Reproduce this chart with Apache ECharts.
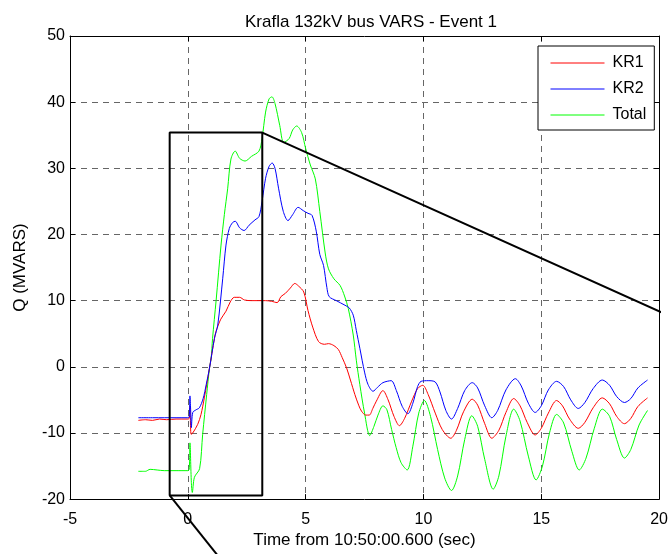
<!DOCTYPE html>
<html>
<head>
<meta charset="utf-8">
<script src="https://cdn.jsdelivr.net/npm/echarts@6/dist/echarts.min.js"></script>
<style>
html,body{margin:0;padding:0;background:#fff;}
#chart{width:671px;height:554px;}
</style>
</head>
<body>
<div id="chart"></div>
<script>
// ---- Data (time in sec, Q in MVARS) ----
const seriesNames = ["KR1", "KR2", "Total"];
const xTicks = [-5, 0, 5, 10, 15, 20];
const yTicks = [-20, -10, 0, 10, 20, 30, 40, 50];

const kr1T = [-2.1,-1.8,-1.5,-1.2,-0.9,-0.5,0.0,0.06,0.09,0.14,0.21,0.42,0.56,0.7,0.92,1.13,1.2,1.4,1.62,1.8,1.97,2.2,2.4,2.7,3.0,3.3,3.55,3.79,3.95,4.14,4.35,4.54,4.7,4.92,5.1,5.3,5.55,5.8,5.97,6.2,6.39,6.55,6.74,6.9,7.09,7.25,7.37,7.55,7.7,7.85,8.0,8.28,8.5,8.75,8.98,9.2,9.5,9.75,9.97,10.2,10.5,10.8,11.16,11.4,11.7,12.07,12.3,12.6,12.9,13.2,13.5,13.83,14.1,14.4,14.74,15.0,15.3,15.65,15.9,16.2,16.57,16.85,17.2,17.59,17.9,18.2,18.53,18.8,19.1,19.51];
const kr1Q = [-8.1,-8.0,-8.1,-7.9,-8.0,-7.9,-7.9,-7.8,-6.0,-10.2,-10.0,-8.7,-7.2,-4.7,-0.2,4.3,5.4,7.2,8.4,9.8,10.5,10.5,10.1,10.0,10.0,10.0,9.9,9.7,10.6,11.1,11.9,12.6,12.2,11.3,8.5,6.0,3.8,3.4,3.5,3.2,2.6,1.4,-0.2,-2.0,-4.2,-5.8,-6.7,-7.3,-7.3,-6.3,-5.2,-3.6,-5.0,-7.5,-8.9,-7.8,-5.2,-3.3,-2.8,-4.2,-7.0,-9.5,-10.8,-9.6,-6.8,-4.9,-5.8,-8.6,-10.8,-9.6,-6.9,-4.8,-5.9,-8.4,-10.3,-9.3,-7.0,-5.1,-5.9,-7.9,-9.3,-8.4,-6.2,-4.7,-5.6,-7.5,-8.6,-7.8,-6.0,-4.7];

const kr2T = [-2.1,-1.5,-1.0,-0.5,0.0,0.06,0.09,0.12,0.15,0.21,0.35,0.49,0.65,0.78,0.92,1.13,1.27,1.48,1.62,1.76,1.9,2.01,2.2,2.39,2.6,2.85,3.02,3.15,3.3,3.45,3.58,3.7,3.85,4.05,4.25,4.45,4.68,4.9,5.1,5.27,5.45,5.6,5.76,5.9,6.0,6.3,6.67,6.85,7.02,7.15,7.3,7.5,7.65,7.86,8.05,8.28,8.63,8.85,9.1,9.34,9.55,9.75,9.9,10.2,10.5,10.7,10.95,11.19,11.45,11.75,12.07,12.3,12.6,12.9,13.15,13.5,13.9,14.15,14.45,14.74,15.0,15.3,15.65,15.95,16.25,16.57,16.85,17.2,17.59,17.9,18.2,18.53,18.8,19.1,19.51];
const kr2Q = [-7.7,-7.7,-7.7,-7.7,-7.7,-7.6,-4.4,-6.5,-9.2,-6.9,-6.5,-6.2,-4.8,-2.7,-0.2,4.3,6.3,13.3,18.4,20.9,21.8,22.0,21.0,20.6,21.4,22.2,22.7,25.0,28.5,30.3,30.8,30.0,27.0,23.5,22.1,23.0,24.1,23.6,23.2,22.9,20.5,17.0,15.3,12.0,10.6,10.0,9.3,8.9,7.8,5.5,2.8,-0.8,-2.7,-3.7,-3.1,-2.4,-2.1,-3.6,-6.0,-7.1,-5.5,-3.0,-2.2,-2.1,-2.3,-3.8,-6.6,-7.9,-6.3,-3.6,-2.4,-3.2,-5.9,-7.7,-6.6,-3.5,-1.8,-2.9,-5.5,-6.9,-5.9,-3.5,-2.2,-3.0,-5.0,-6.3,-5.4,-3.3,-2.0,-2.8,-4.5,-5.4,-4.8,-3.2,-2.0];

const totT = [-2.1,-1.8,-1.6,-1.3,-1.0,-0.5,0.0,0.06,0.09,0.15,0.19,0.28,0.5,0.63,0.8,0.92,0.99,1.05,1.2,1.41,1.55,1.69,1.83,2.01,2.2,2.43,2.7,3.02,3.15,3.3,3.45,3.57,3.7,3.9,4.07,4.3,4.45,4.62,4.83,5.0,5.2,5.41,5.6,5.83,5.97,6.2,6.46,6.65,6.81,7.02,7.15,7.3,7.5,7.72,7.9,8.07,8.28,8.45,8.65,8.84,9.05,9.31,9.55,9.8,10.04,10.3,10.6,10.9,11.19,11.45,11.75,12.05,12.3,12.6,12.96,13.2,13.5,13.83,14.1,14.45,14.78,15.05,15.35,15.65,15.95,16.3,16.61,16.9,17.25,17.59,17.9,18.2,18.53,18.8,19.15,19.51];
const totQ = [-15.8,-15.8,-15.5,-15.6,-15.7,-15.7,-15.7,-15.5,-11.5,-17.5,-19.0,-16.7,-15.4,-10.2,-4.2,-0.2,1.3,4.3,10.0,18.4,23.0,26.9,31.4,32.6,31.5,31.1,31.8,32.6,34.5,38.5,40.5,40.8,39.8,36.5,33.9,34.5,35.8,36.4,35.4,33.0,30.5,28.4,23.5,17.2,14.8,13.3,12.3,10.7,8.8,4.8,1.0,-2.7,-7.0,-10.4,-9.0,-7.3,-5.9,-6.5,-9.5,-12.2,-14.5,-15.6,-12.0,-7.0,-5.1,-7.5,-12.5,-16.8,-18.7,-16.5,-11.0,-7.4,-9.0,-14.0,-18.5,-16.5,-10.5,-6.4,-8.2,-13.5,-17.1,-15.0,-10.0,-7.2,-8.5,-12.8,-15.6,-13.8,-9.3,-6.4,-7.5,-11.0,-13.8,-12.5,-8.8,-6.6];

// zoom-in annotation box (data coordinates) and its connector lines
const boxX = [21.0, 3.16, -0.77, -0.77, 3.16, 3.16];
const boxY = [6.8, 35.4, 35.4, -19.45, -19.45, 35.4];
const connX = [-0.77, 1.6];
const connY = [-19.45, -30.0];

function pairs(xs, ys) { return xs.map((x, i) => [x, ys[i]]); }

const colors = ["#ff0000", "#0000ff", "#00ff00"];
const FONT = "Liberation Sans";

const chart = echarts.init(document.getElementById('chart'), null, {renderer: 'canvas'});

const gridLine = {show: true, lineStyle: {color: '#666', type: [6, 5], width: 1}};
const axisLabelStyle = {color: '#000', fontFamily: FONT, fontSize: 16};

const option = {
  animation: false,
  backgroundColor: '#fff',
  title: {
    text: 'Krafla 132kV bus VARS - Event 1',
    left: 366,
    textAlign: 'center',
    top: 9,
    textStyle: {fontFamily: FONT, fontSize: 17, fontWeight: 'normal', color: '#000'}
  },
  legend: {
    data: seriesNames,
    orient: 'vertical',
    left: 538,
    top: 46,
    backgroundColor: '#fff',
    borderColor: '#000',
    borderWidth: 1,
    padding: [9, 8, 7, 12],
    itemWidth: 54,
    itemHeight: 14,
    itemGap: 10,
    itemStyle: {opacity: 0},
    lineStyle: {width: 1},
    textStyle: {fontFamily: FONT, fontSize: 16, color: '#000', padding: [0, 0, 0, 3]},
    z: 10
  },
  grid: {left: 70, right: 8, top: 36, bottom: 52, containLabel: false},
  xAxis: [{
    type: 'value', min: -5, max: 20, interval: 5,
    name: 'Time from 10:50:00.600 (sec)',
    nameLocation: 'middle', nameGap: 32,
    nameTextStyle: {fontFamily: FONT, fontSize: 17, color: '#000'},
    axisLine: {show: true, onZero: false, lineStyle: {color: '#000', width: 1}},
    axisTick: {show: true, inside: true, length: 5, lineStyle: {color: '#000'}},
    axisLabel: Object.assign({margin: 12}, axisLabelStyle),
    splitLine: gridLine
  }, {
    type: 'value', min: -5, max: 20, interval: 5, position: 'top',
    axisLine: {show: true, onZero: false, lineStyle: {color: '#000', width: 1}},
    axisTick: {show: true, inside: true, length: 5, lineStyle: {color: '#000'}},
    axisLabel: {show: false}, splitLine: {show: false}
  }],
  yAxis: [{
    type: 'value', min: -20, max: 50, interval: 10,
    name: 'Q (MVARS)',
    nameLocation: 'middle', nameGap: 41,
    nameTextStyle: {fontFamily: FONT, fontSize: 17, color: '#000'},
    axisLine: {show: true, onZero: false, lineStyle: {color: '#000', width: 1}},
    axisTick: {show: true, inside: true, length: 5, lineStyle: {color: '#000'}},
    axisLabel: Object.assign({margin: 5}, axisLabelStyle),
    splitLine: gridLine
  }, {
    type: 'value', min: -20, max: 50, interval: 10, position: 'right',
    axisLine: {show: true, onZero: false, lineStyle: {color: '#000', width: 1}},
    axisTick: {show: true, inside: true, length: 5, lineStyle: {color: '#000'}},
    axisLabel: {show: false}, splitLine: {show: false}
  }],
  series: [
    {name: seriesNames[0], type: 'line', data: pairs(kr1T, kr1Q), symbol: 'none', smooth: 0.3,
     lineStyle: {color: colors[0], width: 1}, itemStyle: {color: colors[0]}, z: 3},
    {name: seriesNames[1], type: 'line', data: pairs(kr2T, kr2Q), symbol: 'none', smooth: 0.3,
     lineStyle: {color: colors[1], width: 1}, itemStyle: {color: colors[1]}, z: 4},
    {name: seriesNames[2], type: 'line', data: pairs(totT, totQ), symbol: 'none', smooth: 0.3,
     lineStyle: {color: colors[2], width: 1}, itemStyle: {color: colors[2]}, z: 2},
    {name: 'box', type: 'line', data: pairs(boxX, boxY), symbol: 'none', clip: false,
     lineStyle: {color: '#000', width: 2}, silent: true, z: 5},
    {name: 'conn', type: 'line', data: pairs(connX, connY), symbol: 'none', clip: false,
     lineStyle: {color: '#000', width: 2}, silent: true, z: 5}
  ]
};
chart.setOption(option);
</script>
</body>
</html>
